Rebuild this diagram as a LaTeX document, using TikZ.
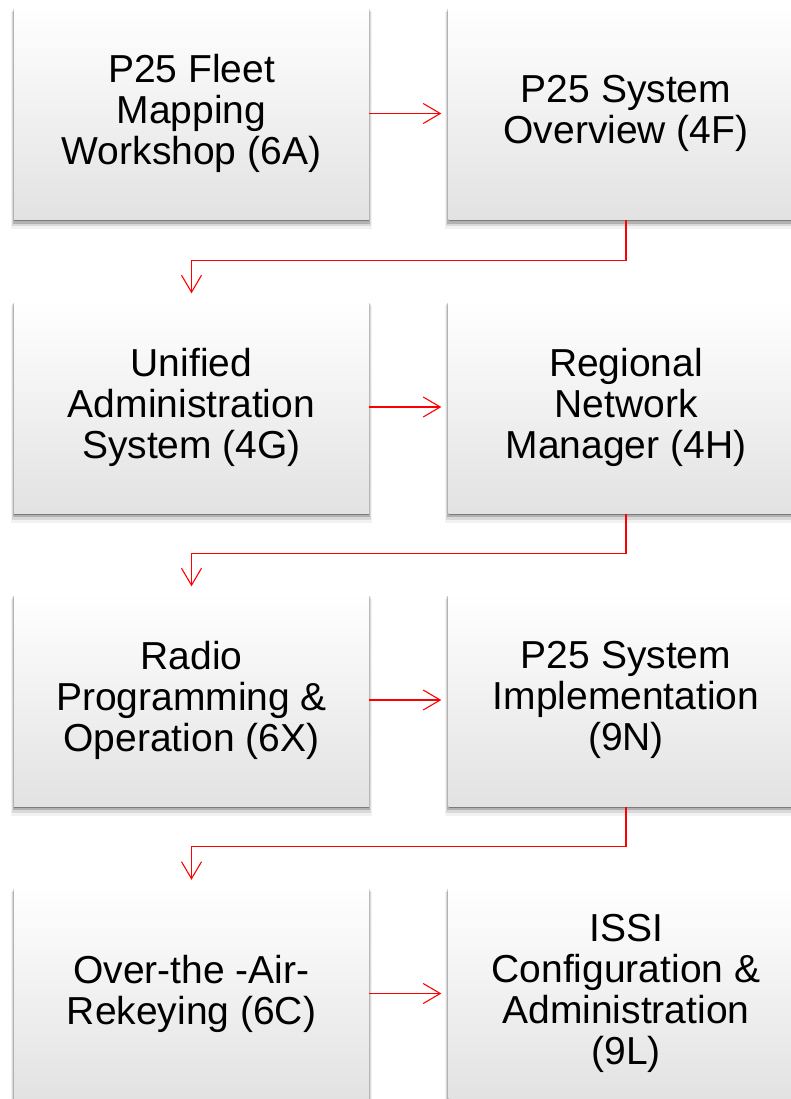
\documentclass[tikz,border=0pt]{standalone}
\usepackage{fontspec}
\setmainfont{Liberation Sans}
\usetikzlibrary{arrows.meta,shadows}
\definecolor{boxbot}{RGB}{226,226,226}
\definecolor{boxmid}{RGB}{252,252,252}
\tikzset{
  stepbox/.style={minimum width=355pt, minimum height=213pt, inner sep=0pt, align=center,
    font=\fontsize{39}{41}\selectfont, text=black,
    top color=white, middle color=boxmid, bottom color=boxbot,
    general shadow={fill=black, opacity=.30, shadow yshift=-1.5pt, shadow scale=1.0},
    general shadow={fill=black, opacity=.18, shadow yshift=-3pt, shadow scale=1.006},
    general shadow={fill=black, opacity=.10, shadow yshift=-5pt, shadow scale=1.012},
    general shadow={fill=black, opacity=.05, shadow yshift=-7pt, shadow scale=1.018}},
  conn/.style={draw=red, line width=1.1pt, -{Straight Barb[length=17pt,width=20pt,line width=1.1pt]}}
}
\begin{document}
\begin{tikzpicture}[x=1pt,y=-1pt]
\useasboundingbox (0,0) rectangle (791,1099);
\fill[white] (0,0) rectangle (791,1099);
\clip (0,0) rectangle (791,1099);
\node[stepbox] (a) at (191.5,113.5) {P25 Fleet\\Mapping\\Workshop (6A)};
\node[stepbox] (b) at (626,113.5) {P25 System\\Overview (4F)};
\node[stepbox] (c) at (191.5,407) {Unified\\Administration\\System (4G)};
\node[stepbox] (d) at (626,407) {Regional\\Network\\Manager (4H)};
\node[stepbox] (e) at (191.5,700) {Radio\\Programming \&\\Operation (6X)};
\node[stepbox] (f) at (626,700) {P25 System\\Implementation\\(9N)};
\node[stepbox] (g) at (191.5,993.5) {Over-the -Air-\\Rekeying (6C)};
\node[stepbox] (h) at (626,993.5) {ISSI\\Configuration \&\\Administration\\(9L)};
\draw[conn, shorten >=7pt] (a.east) -- (b.west);
\draw[conn, shorten >=7pt] (c.east) -- (d.west);
\draw[conn, shorten >=7pt] (e.east) -- (f.west);
\draw[conn, shorten >=7pt] (g.east) -- (h.west);
\draw[conn, shorten >=7pt] (b.south) -- ++(0,40) -| (c.north);
\draw[conn, shorten >=7pt] (d.south) -- ++(0,40) -| (e.north);
\draw[conn, shorten >=7pt] (f.south) -- ++(0,40) -| (g.north);
\end{tikzpicture}
\end{document}
